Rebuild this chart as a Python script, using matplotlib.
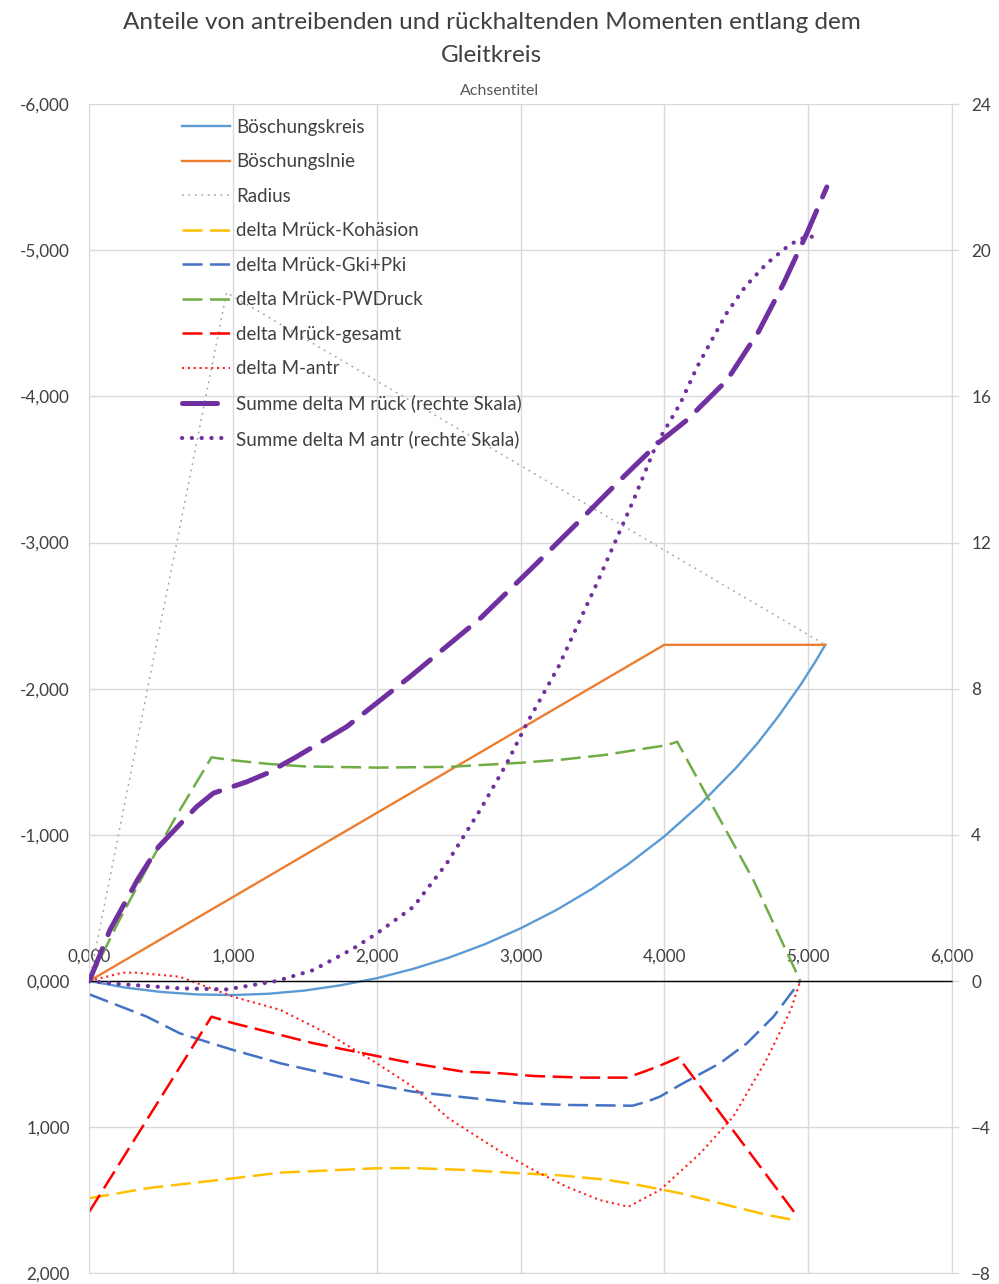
"""Anteile von antreibenden und rückhaltenden Momenten entlang dem Gleitkreis."""
import matplotlib

matplotlib.use("Agg")
import matplotlib.pyplot as plt
from matplotlib.ticker import FixedLocator, FuncFormatter

# --- data (x in m, left axis values, right axis values) ---
kreis_x = [0, 0.25, 0.5, 0.75, 1.0, 1.25, 1.5, 1.75, 2.0, 2.25, 2.5, 2.75, 3.0, 3.25, 3.5, 3.75, 4.0,
           4.25, 4.5, 4.65, 4.8, 4.95, 5.05, 5.12]
kreis_y = [0, 0.045, 0.075, 0.092, 0.096, 0.087, 0.065, 0.029, -0.019, -0.082, -0.159, -0.251,
           -0.360, -0.486, -0.632, -0.800, -0.989, -1.208, -1.459, -1.628, -1.819, -2.029, -2.183,
           -2.300]

linie_x = [0, 4.0, 5.12]
linie_y = [0, -2.30, -2.30]

radius_x = [0, 0.955, 5.12]
radius_y = [0, -4.71, -2.30]

kohaesion_x = [0, 0.4, 1.0, 1.33, 2.0, 2.25, 2.6, 2.92, 3.28, 3.6, 3.8, 4.0, 4.11, 4.25, 4.39, 4.575,
               4.714, 4.93]
kohaesion_y = [1.486, 1.418, 1.350, 1.311, 1.281, 1.280, 1.292, 1.311, 1.330, 1.360, 1.392, 1.430,
               1.452, 1.486, 1.521, 1.566, 1.600, 1.640]

gki_x = [0, 0.4, 0.63, 1.0, 1.33, 2.0, 2.25, 3.0, 3.32, 3.78, 3.88, 3.97, 4.11, 4.39, 4.575, 4.76, 4.946]
gki_y = [0.091, 0.244, 0.358, 0.472, 0.563, 0.711, 0.757, 0.837, 0.848, 0.853, 0.825, 0.791, 0.711,
         0.561, 0.426, 0.244, 0.0]

pw_x = [0, 0.2, 0.4, 0.6, 0.85, 1.0, 1.25, 1.5, 2.0, 2.5, 3.0, 3.3, 3.58, 3.83, 4.02, 4.09, 4.3, 4.62,
        4.946]
pw_y = [0, -0.40, -0.77, -1.12, -1.53, -1.51, -1.485, -1.468, -1.46, -1.465, -1.493, -1.516, -1.546,
        -1.585, -1.614, -1.637, -1.261, -0.691, 0.0]

gesamt_x = [0, 0.85, 1.0, 1.33, 1.56, 2.0, 2.25, 2.6, 2.86, 3.09, 3.44, 3.74, 3.86, 3.97, 4.10, 4.91]
gesamt_y = [1.578, 0.244, 0.288, 0.369, 0.426, 0.513, 0.563, 0.620, 0.631, 0.650, 0.661, 0.661, 0.620,
            0.579, 0.524, 1.589]

antr_x = [0, 0.23, 0.33, 0.63, 1.0, 1.33, 1.675, 2.0, 2.25, 2.5, 2.86, 3.09, 3.32, 3.55, 3.75, 3.97,
          4.25, 4.48, 4.71, 4.88, 4.946]
antr_y = [0, -0.057, -0.057, -0.029, 0.107, 0.198, 0.369, 0.563, 0.723, 0.940, 1.167, 1.293, 1.407,
          1.498, 1.544, 1.430, 1.179, 0.928, 0.540, 0.198, 0.0]

sum_rueck_x = [0, 0.144, 0.341, 0.481, 0.747, 0.863, 1.095, 1.234, 1.443, 1.791, 2.232, 2.719, 3.113,
               3.392, 3.670, 3.960, 4.157, 4.436, 4.656, 4.830, 4.992, 5.131]
sum_rueck_y = [0, 1.40, 2.81, 3.67, 4.77, 5.14, 5.45, 5.68, 6.14, 6.96, 8.33, 9.92, 11.43, 12.52, 13.62,
               14.73, 15.35, 16.44, 17.77, 19.09, 20.46, 21.73]

sum_antr_x = [0, 0.2, 0.63, 0.956, 1.304, 1.559, 1.837, 2.0, 2.255, 2.487, 2.719, 2.905, 3.044, 3.264,
              3.531, 3.786, 3.948, 4.111, 4.228, 4.297, 4.436, 4.563, 4.714, 4.876, 4.992, 5.085]
sum_antr_y = [0, -0.08, -0.20, -0.23, 0.0, 0.30, 0.89, 1.30, 2.03, 3.22, 4.68, 5.96, 7.05, 8.60, 10.88,
              13.16, 14.71, 15.80, 16.8, 17.3, 18.29, 19.0, 19.64, 20.16, 20.38, 20.35]

x_ticks = [0, 1, 2, 3, 4, 5, 6]
left_ticks = [-6, -5, -4, -3, -2, -1, 0, 1, 2]
right_ticks = [-8, -4, 0, 4, 8, 12, 16, 20, 24]

TEXT = "#404040"
GRID = "#d9d9d9"


def dec(v, _pos=None):
    s = f"{v:.3f}".replace(".", ",")
    return "0,000" if s == "-0,000" else s


plt.rcParams["font.family"] = ["Lato", "DejaVu Sans"]

fig = plt.figure(figsize=(9.99, 12.84), dpi=100)
ax = fig.add_axes([0.0894, 0.0083, 0.8633, 0.9107])
ax2 = ax.twinx()

ax.set_xlim(0, 6)
ax.set_ylim(2, -6)
ax2.set_ylim(-8, 24)

long_dash = (0, (8, 3))
ax.plot(kreis_x, kreis_y, color="#5b9bd5", lw=1.7, label="Böschungskreis")
ax.plot(linie_x, linie_y, color="#ed7d31", lw=1.7, label="Böschungslnie")
ax.plot(radius_x, radius_y, color="#a5a5a5", lw=1.1, ls=(0, (1.2, 3.0)), label="Radius")
ax.plot(kohaesion_x, kohaesion_y, color="#ffc000", lw=1.8, ls=long_dash, label="delta Mrück-Kohäsion")
ax.plot(gki_x, gki_y, color="#4472c4", lw=1.8, ls=long_dash, label="delta Mrück-Gki+Pki")
ax.plot(pw_x, pw_y, color="#70ad47", lw=1.8, ls=long_dash, label="delta Mrück-PWDruck")
ax.plot(gesamt_x, gesamt_y, color="#ff0000", lw=1.8, ls=long_dash, label="delta Mrück-gesamt")
ax.plot(antr_x, antr_y, color="#ff2020", lw=1.5, ls=(0, (1, 1.8)), label="delta M-antr")
ax2.plot(sum_rueck_x, sum_rueck_y, color="#7030a0", lw=3.6, ls=(0, (7, 3)), dash_capstyle="round",
         label="Summe delta M rück (rechte Skala)")
ax2.plot(sum_antr_x, sum_antr_y, color="#7030a0", lw=3.0, ls=(0, (0.05, 2.3)), dash_capstyle="round",
         label="Summe delta M antr (rechte Skala)")

# grid and axis lines
ax.set_axisbelow(True)
ax.grid(True, color=GRID, lw=1.0)
ax.xaxis.set_major_locator(FixedLocator(x_ticks))
ax.yaxis.set_major_locator(FixedLocator(left_ticks))
ax.xaxis.set_major_formatter(FuncFormatter(dec))
ax.yaxis.set_major_formatter(FuncFormatter(dec))
ax.xaxis.tick_top()
ax.spines["top"].set_position(("data", 0))
ax.spines["top"].set_color("black")
ax.spines["top"].set_linewidth(1.0)
for side in ("left", "right", "bottom"):
    ax.spines[side].set_color(GRID)
ax.tick_params(axis="x", length=0, pad=12, labelsize=12.3, labelcolor=TEXT)
ax.tick_params(axis="y", length=0, pad=14, labelsize=12.3, labelcolor=TEXT)

ax2.yaxis.set_major_locator(FixedLocator(right_ticks))
ax2.tick_params(axis="y", length=5, color=GRID, width=1.0, pad=9, labelsize=12.3, labelcolor=TEXT)
for side in ("left", "right", "top", "bottom"):
    ax2.spines[side].set_visible(False)

fig.text(0.492, 0.9825, "Anteile von antreibenden und rückhaltenden Momenten entlang dem",
         ha="center", va="center", fontsize=17.5, color=TEXT)
fig.text(0.492, 0.9565, "Gleitkreis", ha="center", va="center", fontsize=17.5, color=TEXT)
fig.text(0.5, 0.929, "Achsentitel", ha="center", va="center", fontsize=11.5, color="#595959")

h1, l1 = ax.get_legend_handles_labels()
h2, l2 = ax2.get_legend_handles_labels()
ax2.legend(h1 + h2, l1 + l2, loc="upper left", bbox_to_anchor=(0.182, 1 - 119 / 1284),
           bbox_transform=fig.transFigure, frameon=False, fontsize=13.5, labelspacing=0.93,
           handlelength=2.56, handletextpad=0.32, borderpad=0, borderaxespad=0, labelcolor=TEXT)

fig.savefig("out.png", dpi=100)
